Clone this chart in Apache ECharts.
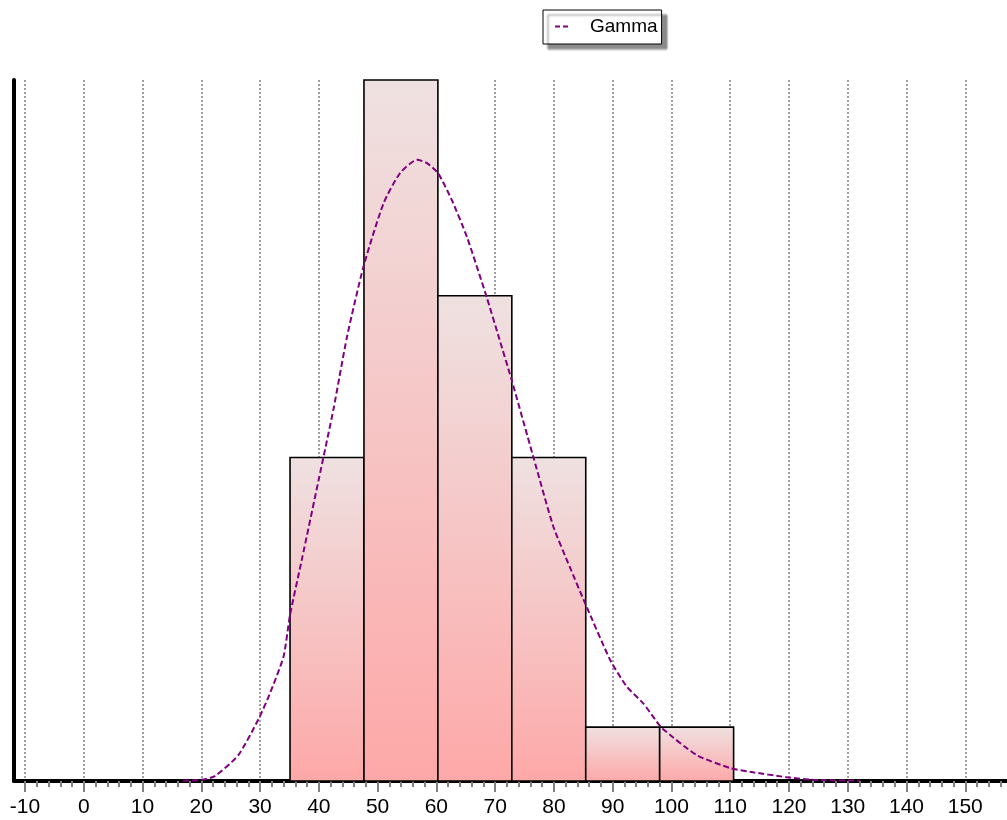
<!DOCTYPE html>
<html>
<head>
<meta charset="utf-8">
<script src="https://cdn.jsdelivr.net/npm/echarts@6/dist/echarts.min.js"></script>
<style>
html,body{margin:0;padding:0;background:#fff;}
#chart{width:1007px;height:820px;}
</style>
</head>
<body>
<div id="chart"></div>
<script>
// Histogram bins: [left edge, right edge]
var binStart = [35.1, 47.68, 60.26, 72.84, 85.42, 98.0];
var binEnd   = [47.68, 60.26, 72.84, 85.42, 98.0, 110.58];
var binCount = [6, 13, 9, 6, 1, 1];

// Gamma fit curve (scaled to counts)
var curveX = [16.9, 19.8, 22.3, 26.3, 29.7, 31.7, 34.0, 35.1, 37.1, 40.0, 42.5, 44.8, 47.6, 51.0, 53.8, 56.7, 58.4, 60.3, 62.6, 65.2, 68.6, 70.6, 72.8, 76.5, 79.9, 82.7, 85.3, 89.6, 92.4, 95.2, 96.9, 98.4, 104.3, 110.0, 113.4, 119.6, 124.2, 132.1];
var curveY = [0.006, 0.02, 0.09, 0.48, 1.14, 1.63, 2.31, 3.08, 4.10, 5.60, 6.90, 8.24, 9.54, 10.71, 11.27, 11.52, 11.46, 11.27, 10.78, 10.09, 8.96, 8.24, 7.44, 6.01, 4.72, 3.97, 3.30, 2.24, 1.75, 1.44, 1.19, 0.98, 0.48, 0.24, 0.17, 0.07, 0.02, 0.006];

var majorTicks = [-10, 0, 10, 20, 30, 40, 50, 60, 70, 80, 90, 100, 110, 120, 130, 140, 150];
var minorTicks = [-8, -6, -4, -2, 2, 4, 6, 8, 12, 14, 16, 18, 22, 24, 26, 28, 32, 34, 36, 38, 42, 44, 46, 48, 52, 54, 56, 58, 62, 64, 66, 68, 72, 74, 76, 78, 82, 84, 86, 88, 92, 94, 96, 98, 102, 104, 106, 108, 112, 114, 116, 118, 122, 124, 126, 128, 132, 134, 136, 138, 142, 144, 146, 148, 152, 154, 156];

var xMin = -11.87, xMax = 157.1;
var yMin = 0, yMax = 13;

var chart = echarts.init(document.getElementById('chart'), null, {renderer: 'canvas'});

var barData = binStart.map(function (s, i) { return [s, binEnd[i], binCount[i]]; });
var lineData = curveX.map(function (x, i) { return [x, curveY[i]]; });

var option = {
  animation: false,
  backgroundColor: '#ffffff',
  grid: {left: 14, right: 0, top: 80, bottom: 39, outerBoundsMode: 'none'},
  legend: {
    data: [{name: 'Gamma', icon: 'path://M0,0h5v2h-5z M8,0h5v2h-5z'}],
    left: 543, top: 10,
    orient: 'horizontal',
    backgroundColor: '#ffffff',
    borderColor: '#000000',
    borderWidth: 1,
    padding: [7, 4, 8, 12],
    itemWidth: 13,
    itemHeight: 2,
    shadowColor: 'rgba(110,110,110,0.8)',
    shadowBlur: 2,
    shadowOffsetX: 5,
    shadowOffsetY: 5,
    textStyle: {fontFamily: 'Liberation Sans, Arial, sans-serif', fontSize: 19, color: '#000', padding: [0, 0, 0, 17]}
  },
  xAxis: [{
    type: 'value', min: xMin, max: xMax,
    axisLine: {show: true, onZero: false, lineStyle: {color: '#000', width: 4}},
    axisTick: {show: true, customValues: majorTicks, length: 11, lineStyle: {color: '#808080', width: 2}},
    axisLabel: {show: true, customValues: majorTicks, margin: 16, fontFamily: 'Liberation Sans, Arial, sans-serif', fontSize: 21, color: '#000'},
    splitLine: {show: true, lineStyle: {color: '#a0a0a0', width: 2, type: [2, 2]}}
  }, {
    type: 'value', min: xMin, max: xMax, position: 'bottom',
    axisLine: {show: false},
    axisTick: {show: true, customValues: minorTicks, length: 6, lineStyle: {color: '#808080', width: 2}},
    axisLabel: {show: false},
    splitLine: {show: false}
  }],
  yAxis: {
    type: 'value', min: yMin, max: yMax,
    axisLine: {show: true, onZero: false, lineStyle: {color: '#000', width: 4}},
    axisTick: {show: false},
    axisLabel: {show: false},
    splitLine: {show: false}
  },
  series: [{
    type: 'custom',
    name: 'bins',
    xAxisIndex: 0,
    data: barData,
    encode: {x: [0, 1], y: 2},
    z: 2,
    renderItem: function (params, api) {
      var p0 = api.coord([api.value(0), api.value(2)]);
      var p1 = api.coord([api.value(1), 0]);
      return {
        type: 'rect',
        shape: {x: p0[0], y: p0[1], width: p1[0] - p0[0], height: p1[1] - p0[1]},
        style: {
          fill: new echarts.graphic.LinearGradient(0, 0, 0, 1, [
            {offset: 0, color: '#efe1e1'},
            {offset: 1, color: '#fea8a8'}
          ]),
          stroke: '#000',
          lineWidth: 1.6
        }
      };
    }
  }, {
    type: 'line',
    name: 'Gamma',
    xAxisIndex: 0,
    data: lineData,
    showSymbol: false,
    symbol: 'none',
    smooth: 0.2,
    z: 5,
    lineStyle: {color: '#800080', width: 2, type: [6, 3]},
    itemStyle: {color: '#800080'}
  }]
};
chart.setOption(option);
</script>
</body>
</html>
